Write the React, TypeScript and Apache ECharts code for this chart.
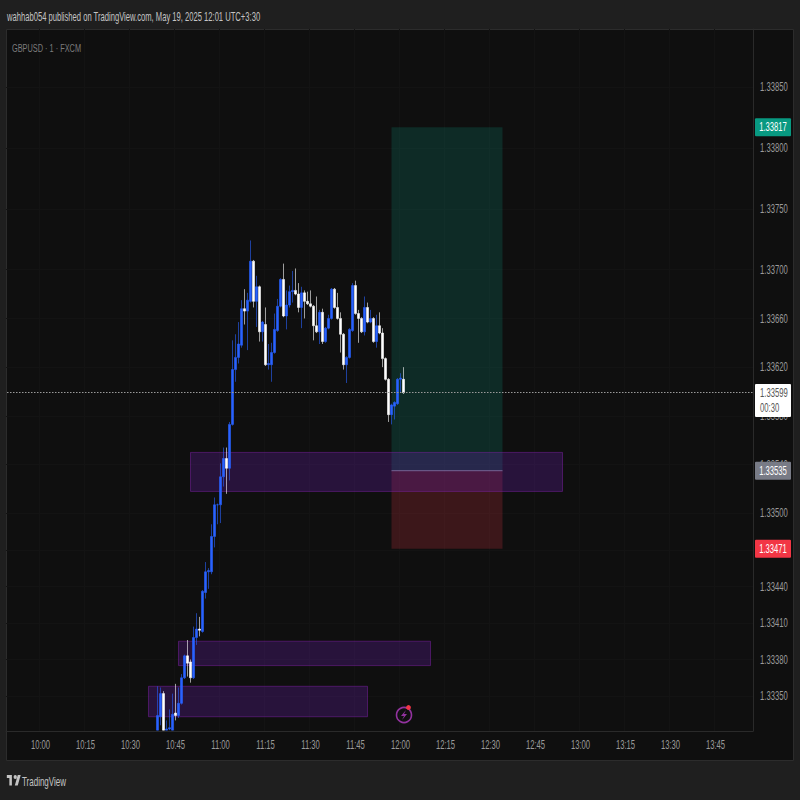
import React, { useEffect, useRef } from "react";
import * as echarts from "echarts";

const FONT = "'Liberation Sans', sans-serif";
const TEXT_SQUEEZE = 0.64;

const publishedText = "wahhab054 published on TradingView.com, May 19, 2025 12:01 UTC+3:30";
const symbolText = "GBPUSD · 1 · FXCM";
const brandText = "TradingView";

const firstMinute = 9 * 60 + 49;
const barCount = 249;
const firstCandle = "10:39";

const opens = [
  1.33322, 1.33333, 1.33352, 1.33322, 1.33323, 1.33322, 1.33336, 1.33334, 1.33344, 1.33365, 1.33383, 1.33378, 1.33365, 1.33398,
  1.33405, 1.33403, 1.33435, 1.33452, 1.33452, 1.33481, 1.33507, 1.33507, 1.3353, 1.33545, 1.33537, 1.33573, 1.33618, 1.33628,
  1.33638, 1.33668, 1.33666, 1.33674, 1.33707, 1.33674, 1.33686, 1.33649, 1.33655, 1.33622, 1.33622, 1.33632, 1.3365, 1.3367,
  1.33692, 1.33662, 1.33671, 1.33682, 1.33683, 1.3368, 1.33669, 1.33681, 1.33674, 1.33672, 1.3367, 1.33654, 1.33649, 1.33665,
  1.33641, 1.33652, 1.3366, 1.33684, 1.33669, 1.3366, 1.33647, 1.33622, 1.33628, 1.3365, 1.33687, 1.33664, 1.3366, 1.33649,
  1.33669, 1.33657, 1.3366, 1.33641, 1.33654, 1.33648, 1.33627, 1.3361, 1.33581, 1.33588, 1.3359, 1.3361, 1.3361,
];
const closes = [
  1.33334, 1.33352, 1.33322, 1.33323, 1.33324, 1.33335, 1.33334, 1.33344, 1.33365, 1.33383, 1.33377, 1.33365, 1.33398, 1.33405,
  1.33404, 1.33436, 1.33452, 1.33453, 1.33481, 1.33507, 1.33507, 1.3353, 1.33545, 1.33537, 1.33573, 1.33618, 1.33628, 1.33639,
  1.33668, 1.33666, 1.33675, 1.33707, 1.33674, 1.33686, 1.33649, 1.33657, 1.33622, 1.33623, 1.33632, 1.33651, 1.3367, 1.33692,
  1.33662, 1.33671, 1.33682, 1.33683, 1.3368, 1.33669, 1.33681, 1.33674, 1.33672, 1.3367, 1.33654, 1.33649, 1.33665, 1.33641,
  1.33652, 1.3366, 1.33684, 1.33669, 1.3366, 1.33647, 1.33622, 1.33628, 1.33651, 1.33687, 1.33664, 1.3366, 1.33649, 1.33669,
  1.33657, 1.3366, 1.33641, 1.33654, 1.33648, 1.33627, 1.3361, 1.33581, 1.33589, 1.33591, 1.3361, 1.33611, 1.33599,
];
const lows = [
  1.33322, 1.33326, 1.33322, 1.33322, 1.33322, 1.33322, 1.3333, 1.33332, 1.33343, 1.33364, 1.33366, 1.33361, 1.33364, 1.33392,
  1.33399, 1.33402, 1.3343, 1.33438, 1.3345, 1.33472, 1.33491, 1.33492, 1.33522, 1.33516, 1.33527, 1.33572, 1.33608, 1.33623,
  1.33636, 1.33655, 1.33634, 1.33673, 1.33669, 1.33653, 1.33641, 1.33641, 1.33621, 1.33618, 1.33608, 1.33631, 1.33649, 1.33669,
  1.33661, 1.33651, 1.33669, 1.33673, 1.33679, 1.33665, 1.33652, 1.3366, 1.33671, 1.33669, 1.33642, 1.33648, 1.33639, 1.33639,
  1.3364, 1.33651, 1.33659, 1.33668, 1.33659, 1.33632, 1.33618, 1.33607, 1.33627, 1.33649, 1.33663, 1.3364, 1.33648, 1.33646,
  1.33656, 1.33656, 1.3364, 1.33636, 1.33647, 1.3362, 1.33609, 1.33575, 1.33573, 1.33577, 1.33589, 1.33599, 1.33598,
];
const highs = [
  1.33358, 1.33357, 1.33354, 1.3333, 1.33339, 1.33352, 1.3336, 1.33357, 1.33368, 1.33384, 1.33396, 1.3338, 1.33407, 1.33418,
  1.33415, 1.33437, 1.3346, 1.33455, 1.33491, 1.33513, 1.33508, 1.33541, 1.33554, 1.33554, 1.33575, 1.33642, 1.33647, 1.33657,
  1.33675, 1.33684, 1.33681, 1.33724, 1.33708, 1.33695, 1.33687, 1.33658, 1.33669, 1.33639, 1.3364, 1.33664, 1.33676, 1.33693,
  1.33705, 1.33683, 1.33687, 1.33699, 1.33701, 1.33689, 1.33686, 1.33683, 1.33682, 1.33683, 1.33671, 1.33678, 1.33667, 1.33668,
  1.33653, 1.33663, 1.33685, 1.33685, 1.33681, 1.33665, 1.33648, 1.33629, 1.33652, 1.33689, 1.33691, 1.33667, 1.33661, 1.33678,
  1.33673, 1.33667, 1.33661, 1.33663, 1.33665, 1.33652, 1.33628, 1.33611, 1.3359, 1.33592, 1.33611, 1.33615, 1.3362,
];

const yAxisMin = 1.333213;
const yAxisMax = 1.338976;
const priceTicks = [1.3385, 1.338, 1.3375, 1.337, 1.3366, 1.3362, 1.3358, 1.3354, 1.335, 1.3347, 1.3344, 1.3341, 1.3338, 1.3335];
const lastPrice = 1.33599;
const countdown = "00:30";

const zoneStarts = ["10:50", "10:46", "10:36"];
const zoneEnds = ["12:54", "12:10", "11:49"];
const zoneTops = [1.3355, 1.33395, 1.33358];
const zoneBottoms = [1.33518, 1.33375, 1.33333];

const positionStart = "11:57";
const positionEnd = "12:34";
const targetPrice = 1.33817;
const entryPrice = 1.33535;
const stopPrice = 1.33471;

const tagPrices = [targetPrice, entryPrice, stopPrice];
const tagFills = ["#089981", "#787b86", "#f23645"];

const TV_LOGO = "M14 6H2v6h6v15h6V6zm14 21h-7l7-21h7l-7 21zM22 6a4 4 0 1 1 0 8 4 4 0 0 1 0-8z";
echarts.graphic.registerShape("tvlogo", (echarts.graphic as any).extendPath(TV_LOGO, {}));

function label(m: number): string {
  const h = Math.floor(m / 60);
  const mm = m % 60;
  return `${h}:${mm < 10 ? "0" : ""}${mm}`;
}
const categories: string[] = [];
for (let i = 0; i < barCount; i++) categories.push(label(firstMinute + i));

const isQuarter = (_: number, v: string) => /:(00|15|30|45)$/.test(v);

export default function App() {
  const ref = useRef<HTMLDivElement>(null);
  useEffect(() => {
    document.body.style.margin = "0";
    const chart = echarts.init(ref.current!, undefined, { renderer: "svg" });
    const offset = categories.indexOf(firstCandle);
    const candleData = opens.map((o, i) => [offset + i, o, closes[i], lows[i], highs[i]]);
    const idx = (s: string) => categories.indexOf(s);

    chart.setOption({
      animation: false,
      backgroundColor: "#1f1f1f",
      textStyle: { fontFamily: FONT },
      grid: { left: 6, width: 747, top: 29, height: 702, containLabel: false, outerBoundsMode: "none" },
      xAxis: {
        type: "category",
        data: categories,
        boundaryGap: true,
        axisTick: { show: false },
        axisLine: { show: true, lineStyle: { color: "#2a2a2a" } },
        axisLabel: { interval: isQuarter, color: "#9a9a9a", fontSize: 12, fontFamily: FONT, margin: 8, hideOverlap: false },
        splitLine: { show: true, interval: isQuarter, lineStyle: { color: "#131313", width: 1 } },
      },
      yAxis: {
        type: "value",
        position: "right",
        min: yAxisMin,
        max: yAxisMax,
        axisLine: { show: true, lineStyle: { color: "#2a2a2a" } },
        axisTick: { show: false, customValues: priceTicks },
        axisLabel: {
          customValues: priceTicks,
          formatter: (v: number) => v.toFixed(5),
          color: "#9a9a9a",
          fontSize: 12,
          fontFamily: FONT,
          margin: 7,
          showMinLabel: true,
          showMaxLabel: true,
        },
        splitLine: { show: true, lineStyle: { color: "#131313", width: 1 } },
      },
      graphic: [
        { type: "rect", z: -10, shape: { x: 6.5, y: 29.5, width: 787, height: 731 }, style: { fill: "#0f0f0f", stroke: "#2c2c2c", lineWidth: 1 } },
        { type: "text", x: 7, y: 17, style: { text: publishedText, fill: "#c4c4c4", font: `11.9px ${FONT}`, textVerticalAlign: "middle" } },
        { type: "text", x: 12, y: 48, z: 10, style: { text: symbolText, fill: "#7c7c7c", font: `11.5px ${FONT}`, textVerticalAlign: "middle" } },
        { type: "tvlogo", x: 6, y: 772, scaleX: 0.42, scaleY: 0.5, style: { fill: "#c4c4c4" } },
        { type: "text", x: 22, y: 782, style: { text: brandText, fill: "#c4c4c4", font: `12.5px ${FONT}`, textVerticalAlign: "middle" } },
        { type: "circle", z: 10, shape: { cx: 404, cy: 715, r: 7.5 }, style: { fill: "none", stroke: "#93329f", lineWidth: 1.6 } },
        { type: "polygon", z: 10, shape: { points: [[406, 710], [401, 716], [404, 716], [402, 720], [407, 714], [404, 714]] }, style: { fill: "#93329f" } },
        { type: "circle", z: 11, shape: { cx: 408.5, cy: 707.5, r: 2.4 }, style: { fill: "#f23645" } },
      ],
      series: [
        {
          type: "custom",
          name: "position",
          z: 1,
          clip: false,
          silent: true,
          encode: { x: [0, 1], y: [2, 3, 4] },
          data: [[idx(positionStart), idx(positionEnd), targetPrice, entryPrice, stopPrice]],
          renderItem: (_p: any, api: any) => {
            const a = api.coord([api.value(0), api.value(2)]);
            const b = api.coord([api.value(1), api.value(3)]);
            const c = api.coord([api.value(1), api.value(4)]);
            return {
              type: "group",
              children: [
                { type: "rect", shape: { x: a[0], y: a[1], width: b[0] - a[0], height: b[1] - a[1] }, style: { fill: "rgba(8,153,129,0.2)" } },
                { type: "rect", shape: { x: a[0], y: b[1], width: b[0] - a[0], height: c[1] - b[1] }, style: { fill: "rgba(242,54,69,0.2)" } },
                { type: "line", shape: { x1: a[0], y1: b[1], x2: b[0], y2: b[1] }, style: { stroke: "#787b86", lineWidth: 1 } },
              ],
            };
          },
        },
        {
          type: "custom",
          name: "zones",
          z: 1,
          clip: false,
          silent: true,
          encode: { x: [0, 1], y: [2, 3] },
          data: zoneStarts.map((s, i) => [idx(s), idx(zoneEnds[i]), zoneTops[i], zoneBottoms[i]]),
          renderItem: (_p: any, api: any) => {
            const a = api.coord([api.value(0), api.value(2)]);
            const b = api.coord([api.value(1), api.value(3)]);
            return {
              type: "rect",
              shape: { x: a[0], y: a[1], width: b[0] - a[0], height: b[1] - a[1] },
              style: { fill: "rgba(115,30,190,0.25)", stroke: "rgba(123,31,162,0.5)", lineWidth: 1 },
            };
          },
        },
        {
          type: "candlestick",
          name: "GBPUSD",
          z: 3,
          barWidth: 3,
          clip: true,
          encode: { x: 0, y: [1, 2, 3, 4] },
          data: candleData,
          itemStyle: {
            color: "#2962ff",
            color0: "#ffffff",
            borderColor: "#2962ff",
            borderColor0: "#ffffff",
            borderColorDoji: "#2962ff",
            borderWidth: 0.6,
          },
        },
        {
          type: "custom",
          name: "tags",
          z: 6,
          clip: false,
          silent: true,
          encode: { x: 0, y: 1 },
          data: tagPrices.map((p, i) => [i, p]),
          renderItem: (p: any, api: any) => {
            const y = api.coord([0, api.value(1)])[1];
            const i = p.dataIndex;
            return {
              type: "group",
              children: [
                { type: "rect", shape: { x: 755, y: y - 9, width: 36, height: 18, r: 1 }, style: { fill: tagFills[i] } },
                { type: "text", x: 773, y, style: { text: tagPrices[i].toFixed(5), fill: "#ffffff", font: `12px ${FONT}`, align: "center", verticalAlign: "middle" } },
              ],
            };
          },
        },
        {
          type: "custom",
          name: "lastTag",
          z: 6,
          clip: false,
          silent: true,
          encode: { x: 0, y: 1 },
          data: [[0, lastPrice]],
          renderItem: (p: any, api: any) => {
            const y = Math.floor(api.coord([0, api.value(1)])[1]) + 0.5;
            const cs = p.coordSys;
            return {
              type: "group",
              children: [
                { type: "line", shape: { x1: cs.x + 1, y1: y, x2: cs.x + cs.width, y2: y }, style: { stroke: "#9a9a9a", lineWidth: 1, lineDash: [1.5, 1.5] } },
                { type: "rect", shape: { x: 755, y: y - 8.5, width: 36, height: 33, r: 1 }, style: { fill: "#ffffff" } },
                { type: "text", x: 760, y, style: { text: lastPrice.toFixed(5), fill: "#555555", font: `12px ${FONT}`, verticalAlign: "middle" } },
                { type: "text", x: 760, y: y + 15, style: { text: countdown, fill: "#555555", font: `12px ${FONT}`, verticalAlign: "middle" } },
              ],
            };
          },
        },
      ],
    });

    // The reference's type is a horizontally squeezed sans; no narrow family is installed.
    const squeeze = () => {
      ref.current!.querySelectorAll("svg text").forEach((t) => {
        if (t.getAttribute("data-squeezed")) return;
        const m = t.getAttribute("transform") || "";
        t.setAttribute("transform", `${m} scale(${TEXT_SQUEEZE},1)`);
        t.setAttribute("data-squeezed", "1");
      });
    };
    squeeze();
    return () => chart.dispose();
  }, []);
  return <div ref={ref} style={{ position: "absolute", left: 0, top: 0, width: 800, height: 800 }} />;
}
